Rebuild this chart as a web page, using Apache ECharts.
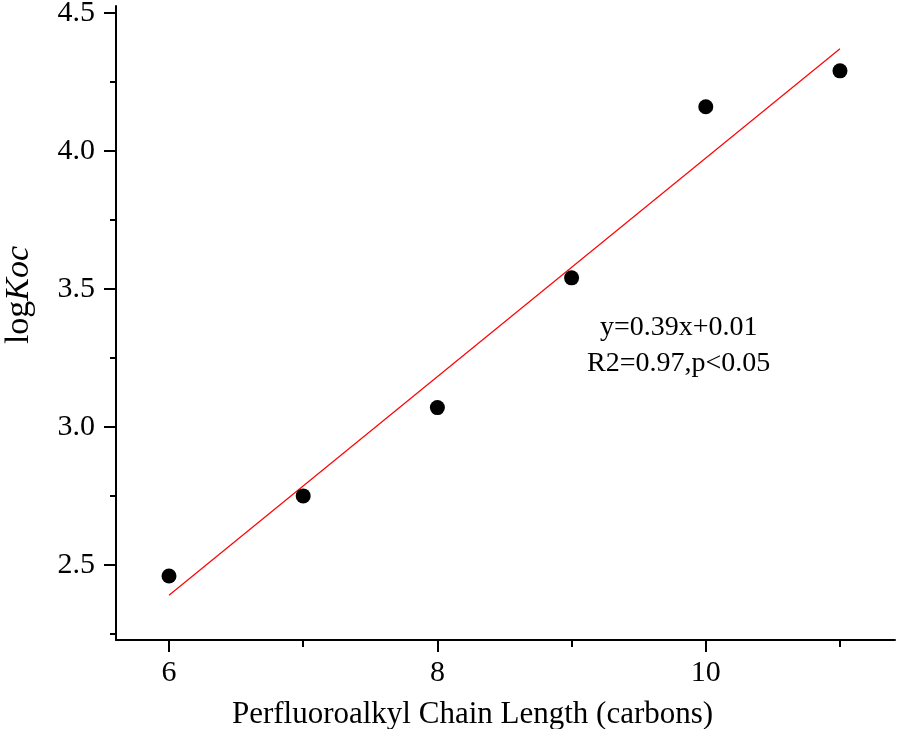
<!DOCTYPE html>
<html><head><meta charset="utf-8">
<script src="https://cdn.jsdelivr.net/npm/echarts@6/dist/echarts.min.js"></script>
<style>html,body{margin:0;padding:0;background:#fff}#c{width:898px;height:729px}</style>
</head><body><div id="c"></div>
<script>
var chainLength = [6, 7, 8, 9, 10, 11];
var logKoc = [2.46, 2.75, 3.07, 3.54, 4.16, 4.29];
var fitX = [6, 11];
var fitY = [2.39, 4.37];
var xMajorTicks = [6, 8, 10];
var xMinorTicks = [7, 9, 11];
var yMajorTicks = [2.5, 3.0, 3.5, 4.0, 4.5];
var yMinorTicks = [2.25, 2.75, 3.25, 3.75, 4.25];
var annotation = ['y=0.39x+0.01', 'R2=0.97,p<0.05'];

var FONT = 'Liberation Serif';
var xMin = 5.605, xMax = 11.41, yMin = 2.228, yMax = 4.525;

var chart = echarts.init(document.getElementById('c'), null, {renderer: 'canvas'});
chart.setOption({
  backgroundColor: '#fff',
  animation: false,
  grid: {left: 116, right: 3, top: 6, bottom: 89, containLabel: false, outerBoundsMode: 'none'},
  xAxis: [{
    type: 'value', min: xMin, max: xMax, position: 'bottom',
    name: 'Perfluoroalkyl Chain Length (carbons)', nameLocation: 'middle', nameGap: 59,
    nameTextStyle: {fontFamily: FONT, fontSize: 31, color: '#000', padding: [0, 66, 0, 0]},
    axisLine: {show: true, onZero: false, lineStyle: {color: '#000', width: 2}},
    axisTick: {show: true, inside: false, length: 12, customValues: xMajorTicks, lineStyle: {color: '#000', width: 2}},
    axisLabel: {customValues: xMajorTicks, margin: 18, fontFamily: FONT, fontSize: 30, color: '#000',
      formatter: function (v) { return String(Math.round(v)); }},
    splitLine: {show: false}
  }, {
    type: 'value', min: xMin, max: xMax, position: 'bottom',
    axisLine: {show: false, onZero: false},
    axisTick: {show: true, length: 7, customValues: xMinorTicks, lineStyle: {color: '#000', width: 2}},
    axisLabel: {show: false},
    splitLine: {show: false}
  }],
  yAxis: [{
    type: 'value', min: yMin, max: yMax, position: 'left',
    name: '{n|log}{i|Koc}', nameLocation: 'middle', nameGap: 80, nameRotate: 90,
    nameTextStyle: {padding: [0, 0, 0, 56], rich: {
      n: {fontFamily: FONT, fontSize: 34, color: '#000'},
      i: {fontFamily: FONT, fontSize: 34, fontStyle: 'italic', color: '#000'}
    }},
    axisLine: {show: true, onZero: false, lineStyle: {color: '#000', width: 2}},
    axisTick: {show: true, length: 12, customValues: yMajorTicks, lineStyle: {color: '#000', width: 2}},
    axisLabel: {customValues: yMajorTicks, margin: 21, fontFamily: FONT, fontSize: 30, color: '#000',
      formatter: function (v) { return v.toFixed(1); }},
    splitLine: {show: false}
  }, {
    type: 'value', min: yMin, max: yMax, position: 'left',
    axisLine: {show: false, onZero: false},
    axisTick: {show: true, length: 6, customValues: yMinorTicks, lineStyle: {color: '#000', width: 2}},
    axisLabel: {show: false},
    splitLine: {show: false}
  }],
  series: [{
    type: 'line', xAxisIndex: 0, yAxisIndex: 0,
    data: fitX.map(function (x, i) { return [x, fitY[i]]; }),
    showSymbol: false, symbol: 'none',
    lineStyle: {color: '#ff0000', width: 1.2}, z: 2
  }, {
    type: 'scatter', xAxisIndex: 0, yAxisIndex: 0,
    data: chainLength.map(function (x, i) { return [x, logKoc[i]]; }),
    symbol: 'circle', symbolSize: 15,
    itemStyle: {color: '#000', opacity: 1}, z: 3
  }],
  graphic: [{
    type: 'text', x: 600, y: 328,
    style: {text: annotation[0], font: '28px "Liberation Serif"', fill: '#000', align: 'left', verticalAlign: 'middle'}
  }, {
    type: 'text', x: 587, y: 364,
    style: {text: annotation[1], font: '28px "Liberation Serif"', fill: '#000', align: 'left', verticalAlign: 'middle'}
  }]
});
</script>
</body></html>
